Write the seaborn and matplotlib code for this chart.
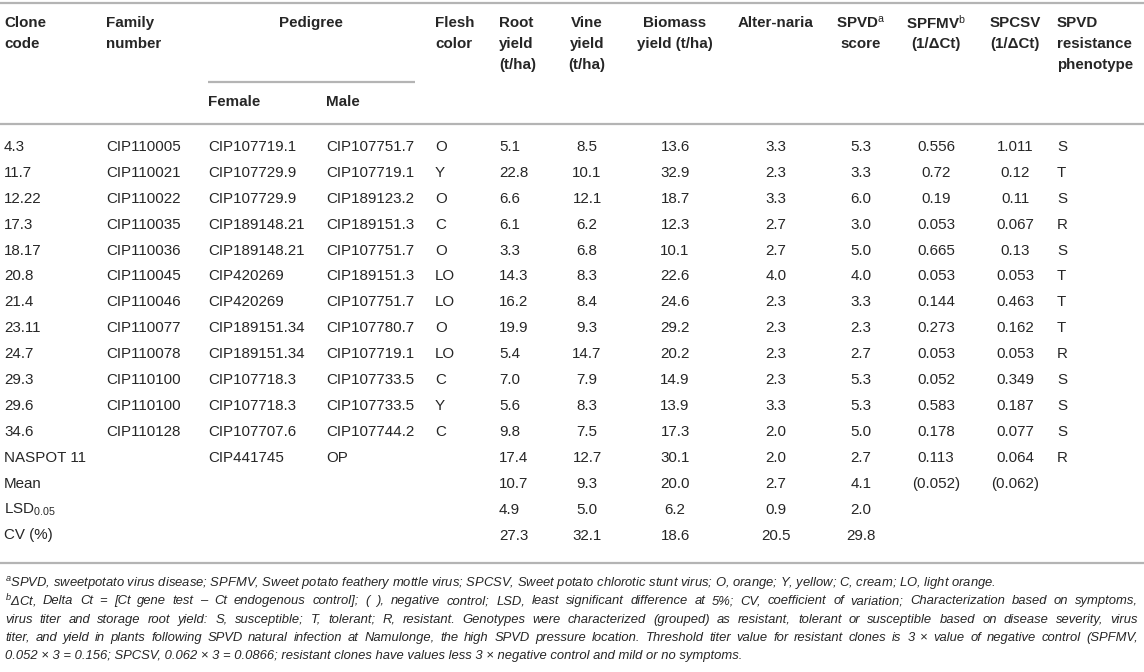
import matplotlib
matplotlib.use("Agg")
import matplotlib.pyplot as plt
import seaborn as sns

# ---------------- data ----------------
clone_code = ["4.3", "11.7", "12.22", "17.3", "18.17", "20.8", "21.4", "23.11", "24.7",
              "29.3", "29.6", "34.6", "NASPOT 11", "Mean", "LSD$_{0.05}$", "CV (%)"]
family_number = ["CIP110005", "CIP110021", "CIP110022", "CIP110035", "CIP110036", "CIP110045",
                 "CIP110046", "CIP110077", "CIP110078", "CIP110100", "CIP110100", "CIP110128",
                 "", "", "", ""]
female = ["CIP107719.1", "CIP107729.9", "CIP107729.9", "CIP189148.21", "CIP189148.21", "CIP420269",
          "CIP420269", "CIP189151.34", "CIP189151.34", "CIP107718.3", "CIP107718.3", "CIP107707.6",
          "CIP441745", "", "", ""]
male = ["CIP107751.7", "CIP107719.1", "CIP189123.2", "CIP189151.3", "CIP107751.7", "CIP189151.3",
        "CIP107751.7", "CIP107780.7", "CIP107719.1", "CIP107733.5", "CIP107733.5", "CIP107744.2",
        "OP", "", "", ""]
flesh_color = ["O", "Y", "O", "C", "O", "LO", "LO", "O", "LO", "C", "Y", "C", "", "", "", ""]
root_yield = [5.1, 22.8, 6.6, 6.1, 3.3, 14.3, 16.2, 19.9, 5.4, 7.0, 5.6, 9.8, 17.4, 10.7, 4.9, 27.3]
vine_yield = [8.5, 10.1, 12.1, 6.2, 6.8, 8.3, 8.4, 9.3, 14.7, 7.9, 8.3, 7.5, 12.7, 9.3, 5.0, 32.1]
biomass_yield = [13.6, 32.9, 18.7, 12.3, 10.1, 22.6, 24.6, 29.2, 20.2, 14.9, 13.9, 17.3, 30.1, 20.0, 6.2, 18.6]
alternaria = [3.3, 2.3, 3.3, 2.7, 2.7, 4.0, 2.3, 2.3, 2.3, 2.3, 3.3, 2.0, 2.0, 2.7, 0.9, 20.5]
spvd_score = [5.3, 3.3, 6.0, 3.0, 5.0, 4.0, 3.3, 2.3, 2.7, 5.3, 5.3, 5.0, 2.7, 4.1, 2.0, 29.8]
spfmv = ["0.556", "0.72", "0.19", "0.053", "0.665", "0.053", "0.144", "0.273", "0.053", "0.052",
         "0.583", "0.178", "0.113", "(0.052)", "", ""]
spcsv = ["1.011", "0.12", "0.11", "0.067", "0.13", "0.053", "0.463", "0.162", "0.053", "0.349",
         "0.187", "0.077", "0.064", "(0.062)", "", ""]
phenotype = ["S", "T", "S", "R", "S", "T", "T", "T", "R", "S", "S", "S", "R", "", "", ""]

headers = [
    ["Clone", "code"],
    ["Family", "number"],
    ["Pedigree"],
    ["Flesh", "color"],
    ["Root", "yield", "(t/ha)"],
    ["Vine", "yield", "(t/ha)"],
    ["Biomass", "yield (t/ha)"],
    ["Alter-naria"],
    ["SPVD$^{\\mathrm{a}}$", "score"],
    ["SPFMV$^{\\mathrm{b}}$", "(1/\u0394Ct)"],
    ["SPCSV", "(1/\u0394Ct)"],
    ["SPVD", "resistance", "phenotype"],
]
sub_headers = ["Female", "Male"]

footnotes = [
    "$^{a}$SPVD, sweetpotato virus disease; SPFMV, Sweet potato feathery mottle virus; SPCSV, Sweet potato chlorotic stunt virus; O, orange; Y, yellow; C, cream; LO, light orange.",
    "$^{b}$\u0394Ct, Delta Ct = [Ct gene test \u2013 Ct endogenous control]; ( ), negative control; LSD, least significant difference at 5%; CV, coefficient of variation; Characterization based on symptoms,",
    "virus titer and storage root yield: S, susceptible; T, tolerant; R, resistant. Genotypes were characterized (grouped) as resistant, tolerant or susceptible based on disease severity, virus",
    "titer, and yield in plants following SPVD natural infection at Namulonge, the high SPVD pressure location. Threshold titer value for resistant clones is 3 \u00d7 value of negative control (SPFMV,",
    "0.052 \u00d7 3 = 0.156; SPCSV, 0.062 \u00d7 3 = 0.0866; resistant clones have values less 3 \u00d7 negative control and mild or no symptoms.",
]
footnote_justified = [False, True, True, True, False]

# ---------------- layout / style ----------------
sns.set_theme(style="white")
plt.rcParams["font.family"] = ["Liberation Sans", "DejaVu Sans"]
plt.rcParams["mathtext.fontset"] = "custom"
plt.rcParams["mathtext.rm"] = "Liberation Sans"
plt.rcParams["mathtext.it"] = "Liberation Sans:italic"
plt.rcParams["mathtext.bf"] = "Liberation Sans:bold"

W, H = 1144, 672
TXT = "#262626"
RULE = "#b4b4b4"
FS = 10.9

fig = plt.figure(figsize=(W / 100, H / 100), dpi=100)
ax = fig.add_axes([0, 0, 1, 1])
ax.set_xlim(0, W)
ax.set_ylim(H, 0)
ax.set_axis_off()

# column anchors: (x, ha)
col_pos = [(4, "left"), (106, "left"), (311, "center"), (435, "left"), (499, "left"),
           (587, "center"), (675, "center"), (776, "center"), (861, "center"),
           (936, "center"), (1015, "center"), (1057, "left")]
female_x, male_x = 208, 326

head_y = [23, 44, 65]
sub_y = 102
row_y0, row_dy = 147, 25.9

# rules
ax.hlines([3, 124, 563], 0, W, colors=RULE, lw=1.6)
ax.hlines(82, 208, 415, colors=RULE, lw=1.6)

# header
for (x, ha), lines in zip(col_pos, headers):
    for j, t in enumerate(lines):
        ax.text(x, head_y[j], t, ha=ha, va="center", fontsize=FS, fontweight="bold", color=TXT)
ax.text(female_x, sub_y, sub_headers[0], ha="left", va="center", fontsize=FS, fontweight="bold", color=TXT)
ax.text(male_x, sub_y, sub_headers[1], ha="left", va="center", fontsize=FS, fontweight="bold", color=TXT)

# body
def fmt(v):
    return f"{v:.1f}" if isinstance(v, float) else v

columns = [
    (clone_code, col_pos[0]),
    (family_number, col_pos[1]),
    (female, (female_x, "left")),
    (male, (male_x, "left")),
    (flesh_color, col_pos[3]),
    (root_yield, col_pos[4]),
    (vine_yield, col_pos[5]),
    (biomass_yield, col_pos[6]),
    (alternaria, col_pos[7]),
    (spvd_score, col_pos[8]),
    (spfmv, col_pos[9]),
    (spcsv, col_pos[10]),
    (phenotype, col_pos[11]),
]
for values, (x, ha) in columns:
    for i, v in enumerate(values):
        s = fmt(v)
        if s:
            ax.text(x, row_y0 + i * row_dy, s, ha=ha, va="center", fontsize=FS, color=TXT)

# ---------------- footnotes ----------------
fig.canvas.draw()
rend = fig.canvas.get_renderer()
FOOT_FAMILY = "Liberation Sans"


def measure(t, fs):
    p = ax.text(0, 0, t, fontsize=fs, style="italic", family=FOOT_FAMILY)
    w = p.get_window_extent(rend).width
    p.remove()
    return w


X0, X1 = 5, 1138
fs_foot = 10 * 990 / measure(footnotes[0], 10)
fs_foot = min(fs_foot, min(10 * (X1 - X0 - 30) / measure(t, 10) for t in footnotes))

for k, (t, just) in enumerate(zip(footnotes, footnote_justified)):
    y = 583 + k * 18.3
    if not just:
        ax.text(X0, y, t, ha="left", va="center", fontsize=fs_foot, style="italic",
                family=FOOT_FAMILY, color=TXT)
        continue
    words = t.split(" ")
    widths = [measure(w, fs_foot) for w in words]
    gap = (X1 - X0 - sum(widths)) / (len(words) - 1)
    x = X0
    for w, wd in zip(words, widths):
        ax.text(x, y, w, ha="left", va="center", fontsize=fs_foot, style="italic",
                family=FOOT_FAMILY, color=TXT)
        x += wd + gap

fig.savefig("out.png", dpi=100, facecolor="white")
